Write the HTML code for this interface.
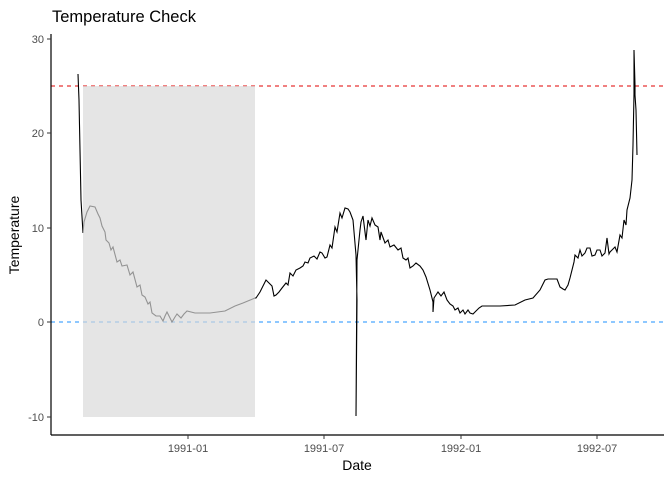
<!DOCTYPE html>
<html><head><meta charset="utf-8"><style>body{margin:0;background:#fff}svg{display:block}</style></head><body>
<svg width="672" height="480" viewBox="0 0 672 480" xmlns="http://www.w3.org/2000/svg" font-family="Liberation Sans, sans-serif">
<rect width="672" height="480" fill="#fff"/>
<text x="52" y="22" font-size="16.5" fill="#000">Temperature Check</text>
<line x1="51" y1="86" x2="664" y2="86" stroke="#e00000" stroke-dasharray="4,4" stroke-width="1"/>
<line x1="51" y1="322" x2="664" y2="322" stroke="#1e90ff" stroke-dasharray="4,4" stroke-width="1"/>
<polyline fill="none" stroke="#000" stroke-width="1.1" points="78,74 79,100 80,150 81,200 83,233 84,222 87,212 90,206 95,207 98,214 100,218 102,226 105,232 106,240 109,243 111,250 113,247 117,262 120,260 122,266 127,265 130,275 133,272 137,287 140,285 142,295 145,297 148,304 150,302 152,313 156,316 160,316 163,321 165,316 167,312 170,318 172,322 175,317 177,314 181,318 184,314 187,311 195,313 210,313 225,311 235,306 243,303 255,298 256,298 260,292 266,280 269,283 272,286 274,296 276,295 279,292 282,288 286,283 288,285 290,273 293,276 296,270 300,268 303,266 305,262 308,263 310,258 314,256 317,259 320,252 322,253 325,258 327,257 330,245 332,248 335,227 337,232 340,213 342,218 345,208 348,209 350,212 353,220 356,255 357,300 356,416 357,260 360,230 361,222 363,216 366,240 368,220 370,226 372,218 375,225 378,227 380,240 381,232 385,243 388,240 390,247 394,245 398,250 401,248 403,258 406,260 408,258 410,268 413,266 416,263 420,266 423,270 426,277 430,290 433,302 433,312 434,298 438,292 441,296 444,292 447,300 450,304 453,306 455,310 458,308 460,313 463,310 465,314 468,310 470,313 473,314 475,312 479,308 482,306 500,306 515,305 525,300 533,298 540,290 545,280 548,279 557,279 560,287 563,289 565,290 568,285 570,278 572,270 574,262 575,255 578,258 580,250 582,256 585,253 587,248 590,248 592,256 595,255 597,250 600,250 602,256 605,253 607,238 609,254 610,252 612,250 615,247 617,252 620,235 622,238 624,220 626,225 627,210 629,202 630,198 632,180 633,145 634,94 634,50 635,85 635,95 636,110 637,155"/>
<rect x="83" y="86" width="172" height="331" fill="#d9d9d9" fill-opacity="0.68"/>
<line x1="51" y1="34" x2="51" y2="435" stroke="#000" stroke-width="1.2"/>
<line x1="51" y1="435" x2="664" y2="435" stroke="#000" stroke-width="1.2"/>
<g stroke="#333" stroke-width="1">
<line x1="47" y1="39" x2="51" y2="39"/><line x1="47" y1="133" x2="51" y2="133"/><line x1="47" y1="228" x2="51" y2="228"/><line x1="47" y1="322" x2="51" y2="322"/><line x1="47" y1="417" x2="51" y2="417"/>
<line x1="188" y1="435" x2="188" y2="439"/><line x1="324" y1="435" x2="324" y2="439"/><line x1="461" y1="435" x2="461" y2="439"/><line x1="597" y1="435" x2="597" y2="439"/>
</g>
<g font-size="11" fill="#4d4d4d" text-anchor="end">
<text x="44" y="43">30</text><text x="44" y="137">20</text><text x="44" y="232">10</text><text x="44" y="326">0</text><text x="44" y="421">-10</text>
</g>
<g font-size="11" fill="#4d4d4d" text-anchor="middle">
<text x="188" y="452">1991-01</text><text x="324" y="452">1991-07</text><text x="461" y="452">1992-01</text><text x="597" y="452">1992-07</text>
</g>
<text x="357" y="470" font-size="14" text-anchor="middle">Date</text>
<text transform="translate(19,235) rotate(-90)" font-size="14" text-anchor="middle">Temperature</text>
</svg>
</body></html>
